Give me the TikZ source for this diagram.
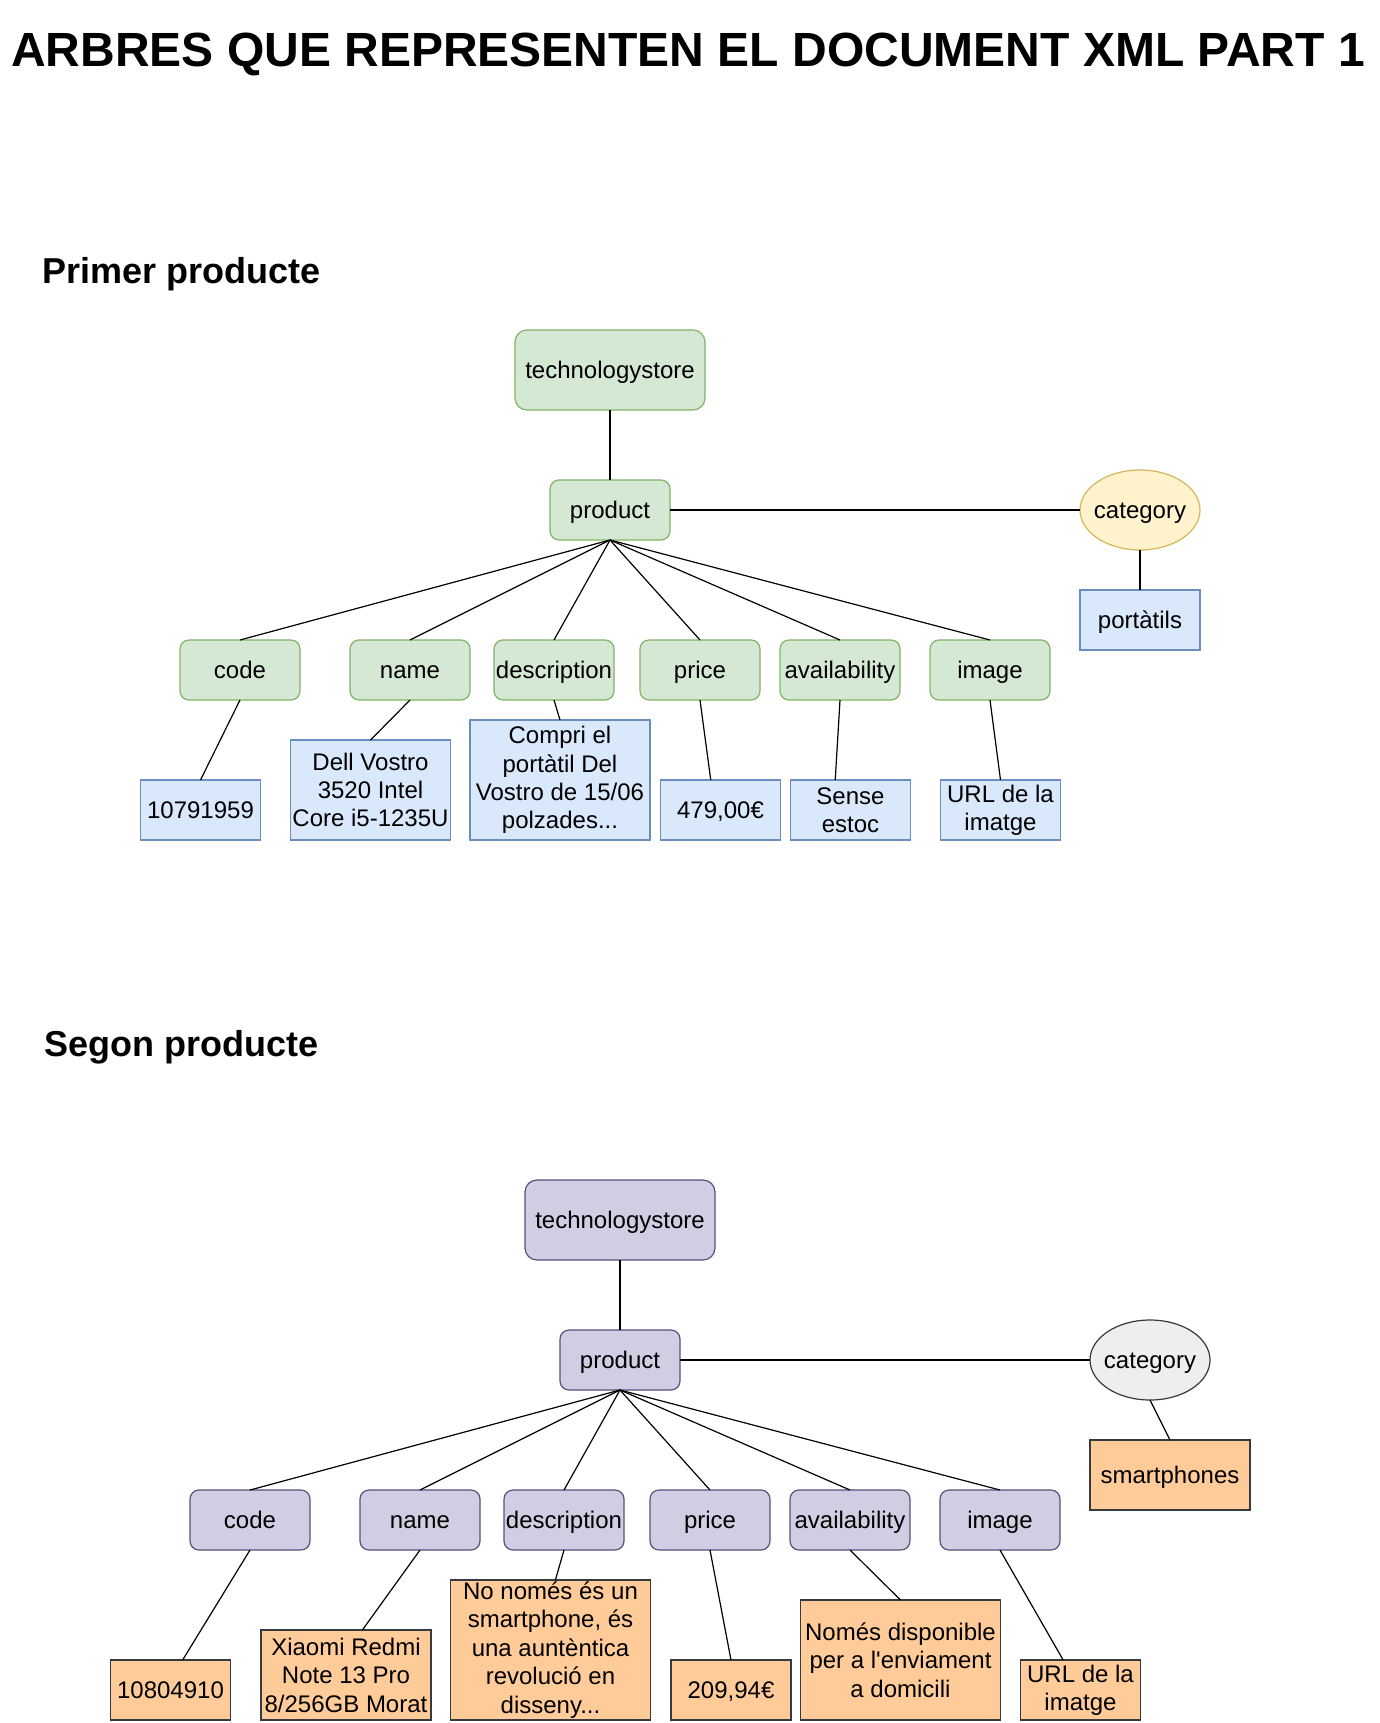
\documentclass[tikz,border=0pt]{standalone}
\usepackage{fontspec}
\setmainfont{Liberation Sans}[Ligatures=TeXOff]
\usetikzlibrary{shapes.geometric}
\definecolor{gfill}{HTML}{D5E8D4}
\definecolor{gline}{HTML}{82B366}
\definecolor{bfill}{HTML}{DAE8FC}
\definecolor{bline}{HTML}{6C8EBF}
\definecolor{yfill}{HTML}{FFF2CC}
\definecolor{yline}{HTML}{D6B656}
\definecolor{pfill}{HTML}{D0CEE2}
\definecolor{pline}{HTML}{56517E}
\definecolor{efill}{HTML}{EEEEEE}
\definecolor{eline}{HTML}{36393D}
\definecolor{ofill}{HTML}{FFCC99}
\definecolor{oline}{HTML}{36393D}
\begin{document}
\begin{tikzpicture}[x=0.5pt,y=-0.5pt,
  base/.style={draw, line width=0.6pt, inner sep=0pt, outer sep=0pt, align=center, font=\fontsize{12}{14.2}\selectfont},
  oneline/.style={text height=8.8pt, text depth=0pt},
  gbox/.style={base, oneline, rounded corners=4.5pt, fill=gfill, draw=gline, minimum width=60pt, minimum height=30pt},
  pbox/.style={base, oneline, rounded corners=4.5pt, fill=pfill, draw=pline, minimum width=60pt, minimum height=30pt},
  groot/.style={gbox, rounded corners=6pt, minimum width=95pt, minimum height=40pt},
  proot/.style={pbox, rounded corners=6pt, minimum width=95pt, minimum height=40pt},
  bval/.style={base, fill=bfill, draw=bline, minimum width=60pt, minimum height=30pt},
  oval/.style={base, fill=ofill, draw=oline, minimum width=60pt, minimum height=30pt},
  yell/.style={base, oneline, ellipse, fill=yfill, draw=yline, minimum width=60pt, minimum height=40pt},
  gell/.style={base, oneline, ellipse, fill=efill, draw=eline, minimum width=60pt, minimum height=40pt},
  conn/.style={draw=black, line width=0.6pt},
  heading/.style={anchor=base west, inner sep=0pt, font=\bfseries\fontsize{18}{22}\selectfont}
]
\fill[white] (0,0) rectangle (1380,1723);
\useasboundingbox (0,0) rectangle (1380,1723);

\node[anchor=base, inner sep=0pt, font=\bfseries\fontsize{24}{28}\selectfont] (title) at (688,67) {ARBRES QUE REPRESENTEN EL DOCUMENT XML PART 1};

% ---------- Primer producte ----------
\node[heading] (h1) at (42,283) {Primer producte};

\node[groot] (t1) at (610,370) {technologystore};
\node[gbox] (p1) at (610,510) {product};
\node[yell] (cat1) at (1140,510) {\makebox[0pt]{category}};
\node[bval, oneline] (port1) at (1140,620) {portàtils};

\node[gbox] (code1) at (240,670) {code};
\node[gbox] (name1) at (410,670) {name};
\node[gbox] (desc1) at (554,670) {description};
\node[gbox] (price1) at (700,670) {price};
\node[gbox] (avail1) at (840,670) {availability};
\node[gbox] (image1) at (990,670) {image};

\node[bval, oneline] (v1code) at (200.5,810) {10791959};
\node[bval, minimum width=80pt, minimum height=50pt] (v1name) at (370.5,790) {Dell Vostro\\3520 Intel\\Core i5-1235U};
\node[bval, minimum width=90pt, minimum height=60pt] (v1desc) at (560,780) {Compri el\\portàtil Del\\Vostro de 15/06\\polzades...};
\node[bval, oneline] (v1price) at (720.5,810) {479,00€};
\node[bval] (v1avail) at (850.5,810) {Sense\\estoc};
\node[bval] (v1img) at (1000.5,810) {URL de la\\imatge};

\draw[conn] (t1.south) -- (p1.north);
\draw[conn] (p1.east) -- (cat1.west);
\draw[conn] (cat1.south) -- (port1.north);
\foreach \c in {code1,name1,desc1,price1,avail1,image1}
  \draw[conn] (p1.south) -- (\c.north);
\draw[conn] (code1.south) -- (v1code.north);
\draw[conn] (name1.south) -- (v1name.north);
\draw[conn] (desc1.south) -- (v1desc.north);
\draw[conn] (price1.south) -- (v1price.108);
\draw[conn] (avail1.south) -- (v1avail.117);
\draw[conn] (image1.south) -- (v1img.north);

% ---------- Segon producte ----------
\node[heading] (h2) at (44,1056) {Segon producte};

\node[proot] (t2) at (620,1220) {technologystore};
\node[pbox] (p2) at (620,1360) {product};
\node[gell] (cat2) at (1150,1360) {\makebox[0pt]{category}};
\node[oval, oneline, minimum width=80pt, minimum height=35pt] (smart) at (1170,1475) {smartphones};

\node[pbox] (code2) at (250,1520) {code};
\node[pbox] (name2) at (420,1520) {name};
\node[pbox] (desc2) at (564,1520) {description};
\node[pbox] (price2) at (710,1520) {price};
\node[pbox] (avail2) at (850,1520) {availability};
\node[pbox] (image2) at (1000,1520) {image};

\node[oval, oneline] (v2code) at (170.5,1690) {10804910};
\node[oval, minimum width=85pt, minimum height=45pt] (v2name) at (346,1675) {Xiaomi Redmi\\Note 13 Pro\\8/256GB Morat};
\node[oval, minimum width=100pt, minimum height=70pt] (v2desc) at (550.5,1650) {No només és un\\smartphone, és\\una auntèntica\\revolució en\\disseny...};
\node[oval, oneline] (v2price) at (731,1690) {209,94€};
\node[oval, minimum width=100pt, minimum height=60pt] (v2avail) at (900.5,1660) {Només disponible\\per a l'enviament\\a domicili};
\node[oval] (v2img) at (1080.5,1690) {URL de la\\imatge};

\draw[conn] (t2.south) -- (p2.north);
\draw[conn] (p2.east) -- (cat2.west);
\draw[conn] (cat2.south) -- (smart.north);
\foreach \c in {code2,name2,desc2,price2,avail2,image2}
  \draw[conn] (p2.south) -- (\c.north);
\draw[conn] (code2.south) -- (v2code.68);
\draw[conn] (name2.south) -- (v2name.70);
\draw[conn] (desc2.south) -- (v2desc.86);
\draw[conn] (price2.south) -- (v2price.north);
\draw[conn] (avail2.south) -- (v2avail.north);
\draw[conn] (image2.south) -- (v2img.120);
\end{tikzpicture}
\end{document}
